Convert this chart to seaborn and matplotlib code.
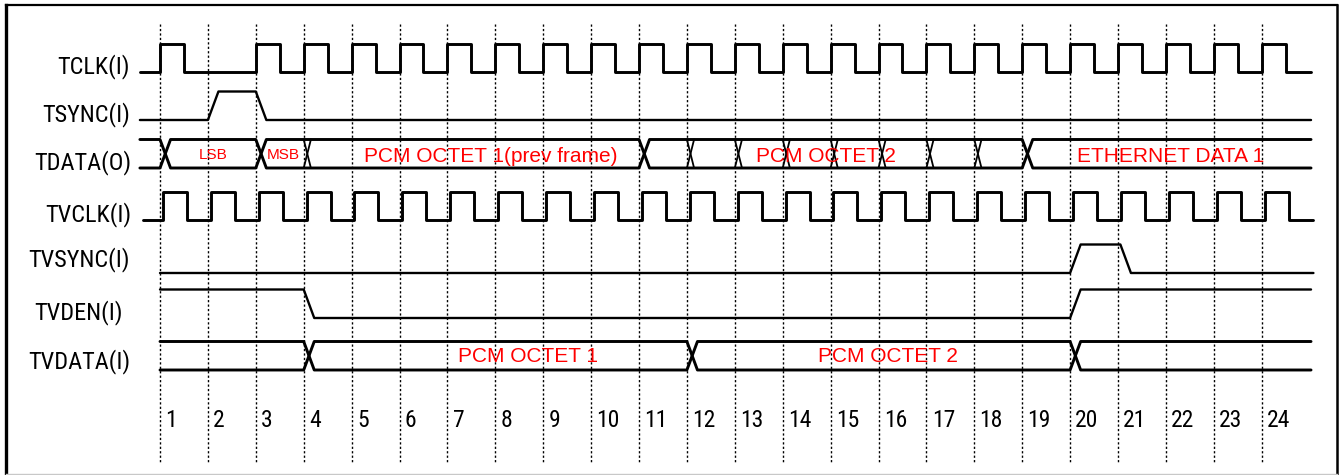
import matplotlib
matplotlib.use("Agg")
import matplotlib.pyplot as plt
import seaborn as sns

# ---- data (time in clock cycles, cycle line k sits at x = k) ----
signal_names = ["TCLK(I)", "TSYNC(I)", "TDATA(O)", "TVCLK(I)",
                "TVSYNC(I)", "TVDEN(I)", "TVDATA(I)"]
cycle_numbers = [1, 2, 3, 4, 5, 6, 7, 8, 9, 10, 11, 12,
                 13, 14, 15, 16, 17, 18, 19, 20, 21, 22, 23, 24]

# clocks: cycles where a high half-period starts
tclk_pulses = [1, 3, 4, 5, 6, 7, 8, 9, 10, 11, 12, 13,
               14, 15, 16, 17, 18, 19, 20, 21, 22, 23, 24]
tclk_span = [0.58, 25.03]
tvclk_pulses = [1, 2, 3, 4, 5, 6, 7, 8, 9, 10, 11, 12,
                13, 14, 15, 16, 17, 18, 19, 20, 21, 22, 23, 24]
tvclk_span = [0.64, 25.07]

# single-bit signals: level holds from each time until the next one
tsync_times = [0.58, 2.0, 3.0]
tsync_levels = [0, 1, 0]
tsync_end = 25.03
tvsync_times = [1.0, 20.0, 21.05]
tvsync_levels = [0, 1, 0]
tvsync_end = 25.08
tvden_times = [1.0, 4.0, 20.0]
tvden_levels = [1, 0, 1]
tvden_end = 25.03

# buses: real changes break the lines, glitches are thin crossings on top
tdata_span = [0.58, 25.03]
tdata_changes = [1, 3, 11, 19]
tdata_glitches = [4, 12, 13, 14, 15, 16, 17, 18]
tdata_labels = ["LSB", "MSB", "PCM OCTET 1(prev frame)", "PCM OCTET 2", "ETHERNET DATA 1"]
tdata_label_pos = [2.11, 3.58, 7.90, 14.90, 22.09]

tvdata_span = [1.0, 25.03]
tvdata_changes = [4, 12, 20]
tvdata_glitches = []
tvdata_labels = ["PCM OCTET 1", "PCM OCTET 2"]
tvdata_label_pos = [8.68, 16.20]

# ---- layout (pixels) ----
W, H = 1340, 475
PX0, PITCH = 160, 47.9          # x pixel of cycle line 1, pixels per cycle
BOX = (6, 5, 1337, 474)         # left, top, right, bottom
row_low = [72, 120, 168, 220, 273, 318, 370]
ROW_AMP = 28.5
label_base = [73, 121, 169, 221, 266, 319, 368]
label_right = [130, 130, 131, 131, 130, 123, 130]
NUM_BASE = 427
EDGE = 0.22                     # slanted edge width (cycles)
GLITCH = 0.15

sns.set_theme(style="white")
plt.rcParams["font.family"] = ["Liberation Sans", "DejaVu Sans"]
NARROW = ["Roboto Condensed", "Liberation Sans", "DejaVu Sans"]


def px_to_cycle(px):
    return 1 + (px - PX0) / PITCH


def ylev(row, level):
    return row_low[row] - level * ROW_AMP


def trace(ax, xs, ys, lw=2.0):
    sns.lineplot(x=xs, y=ys, sort=False, estimator=None, color="black",
                 linewidth=lw, ax=ax, zorder=3)


def draw_clock(ax, row, pulses, span, lw=2.1):
    lo, hi = ylev(row, 0), ylev(row, 1)
    xs, ys = [span[0]], [lo]
    for p in pulses:
        xs += [p, p, p + 0.5, p + 0.5]
        ys += [lo, hi, hi, lo]
    xs.append(span[1])
    ys.append(lo)
    trace(ax, xs, ys, lw)


def draw_level(ax, row, times, levels, end, lw=1.7):
    xs, ys = [times[0]], [ylev(row, levels[0])]
    for t, prev, v in zip(times[1:], levels[:-1], levels[1:]):
        xs += [t, t + EDGE]
        ys += [ylev(row, prev), ylev(row, v)]
    xs.append(end)
    ys.append(ylev(row, levels[-1]))
    trace(ax, xs, ys, lw)


def draw_bus(ax, row, span, changes, glitches, lw=2.1):
    top, bot = ylev(row, 1), ylev(row, 0)
    a_x, a_y = [span[0]], [top]
    b_x, b_y = [span[0]], [bot]
    for c in changes:
        a_x += [c, c + EDGE]
        b_x += [c, c + EDGE]
        a_y += [a_y[-1], bot if a_y[-1] == top else top]
        b_y += [b_y[-1], bot if b_y[-1] == top else top]
    a_x.append(span[1]); a_y.append(a_y[-1])
    b_x.append(span[1]); b_y.append(b_y[-1])
    trace(ax, a_x, a_y, lw)
    trace(ax, b_x, b_y, lw)
    for g in glitches:
        trace(ax, [g, g + GLITCH], [top, bot], 1.3)
        trace(ax, [g, g + GLITCH], [bot, top], 1.3)


fig = plt.figure(figsize=(W / 100, H / 100), dpi=100)
fig.patch.set_facecolor("white")
ax = fig.add_axes([BOX[0] / W, 1 - BOX[3] / H, (BOX[2] - BOX[0]) / W, (BOX[3] - BOX[1]) / H])
ax.set_xlim(px_to_cycle(BOX[0]), px_to_cycle(BOX[2]))
ax.set_ylim(BOX[3], BOX[1])
ax.set_xticks([])
ax.set_yticks([])
ax.set_xlabel("")
ax.set_ylabel("")
ax.set_facecolor("white")
for side, lw, col in [("left", 2.4, "black"), ("top", 1.6, "black"),
                      ("right", 1.8, "black"), ("bottom", 1.0, "#c8c8c8")]:
    ax.spines[side].set_visible(True)
    ax.spines[side].set_linewidth(lw)
    ax.spines[side].set_color(col)

# dotted cycle boundaries
ax.vlines(cycle_numbers, 24, 464, colors="black", linewidth=1.0,
          linestyles=(0, (1.6, 1.6)), zorder=1)

draw_clock(ax, 0, tclk_pulses, tclk_span)
draw_level(ax, 1, tsync_times, tsync_levels, tsync_end)
draw_bus(ax, 2, tdata_span, tdata_changes, tdata_glitches)
draw_clock(ax, 3, [p + 0.06 for p in tvclk_pulses], tvclk_span)
draw_level(ax, 4, tvsync_times, tvsync_levels, tvsync_end)
draw_level(ax, 5, tvden_times, tvden_levels, tvden_end)
draw_bus(ax, 6, tvdata_span, tvdata_changes, tvdata_glitches)

# signal names
for name, base, right in zip(signal_names, label_base, label_right):
    ax.text(px_to_cycle(right), base, name, ha="right", va="baseline",
            fontsize=17.5, family=NARROW, color="black")

# bus contents
small = {"LSB", "MSB"}
for lab, pos in zip(tdata_labels, tdata_label_pos):
    ax.text(pos, 159 if lab in small else 161.5, lab, ha="center", va="baseline",
            fontsize=11 if lab in small else 15, color="red", zorder=4)
for lab, pos in zip(tvdata_labels, tvdata_label_pos):
    ax.text(pos, 362, lab, ha="center", va="baseline", fontsize=15, color="red", zorder=4)

# cycle numbers
for k in cycle_numbers:
    ax.text(k + 0.11, NUM_BASE, str(k), ha="left", va="baseline",
            fontsize=17, family=NARROW, color="black")

fig.savefig("out.png", dpi=100, facecolor="white")
